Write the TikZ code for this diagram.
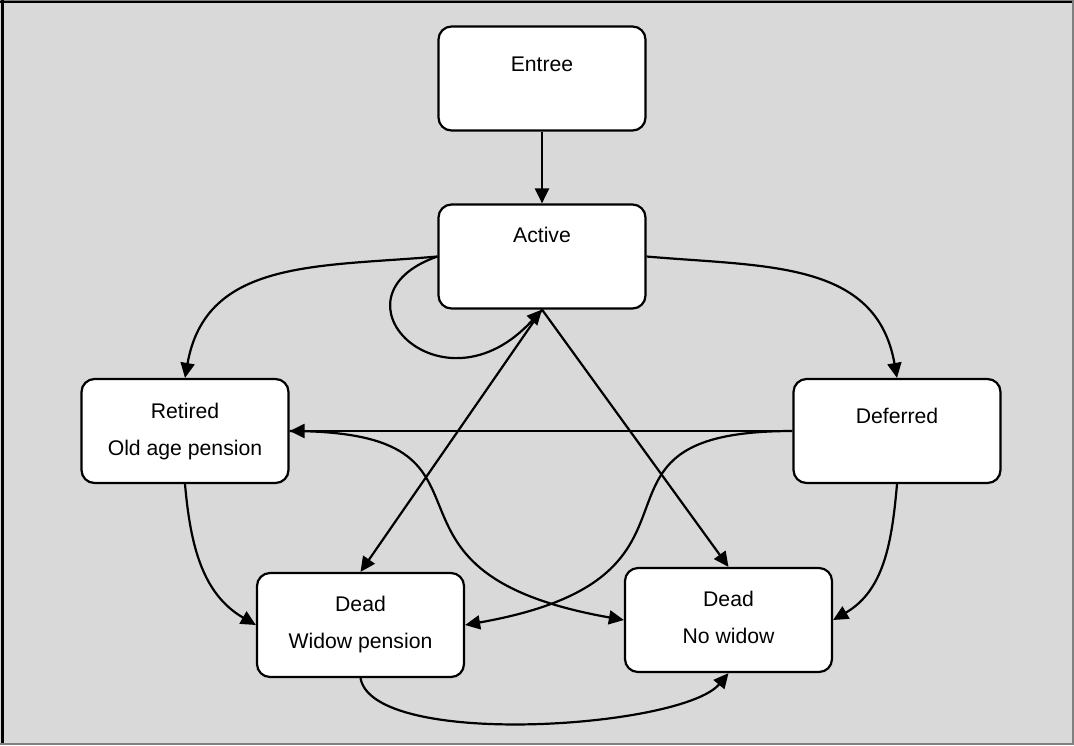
\documentclass[tikz,border=0pt]{standalone}
\usepackage{fontspec}
\setmainfont{Liberation Sans}
\usetikzlibrary{arrows.meta}

\definecolor{bggray}{RGB}{217,217,217}
\definecolor{edgegray}{RGB}{128,128,128}

\begin{document}
\begin{tikzpicture}[x=0.5pt, y=0.5pt,
        S/.style={draw, fill=white, line width=1.1pt, rounded corners=6.5pt,
            minimum width=103.5pt, minimum height=52pt, inner sep=0pt},
        T/.style={anchor=north, align=center, inner sep=0pt,
            font=\fontsize{10.6}{18.5}\selectfont},
        A/.style={line width=1.1pt, ->, >={Triangle[length=7.5pt, width=7pt]}}
    ]

    \useasboundingbox (0,0) rectangle (1074,-745);

    % frame
    \fill[bggray] (0,0) rectangle (1074,-745);
    \fill[edgegray] (0,0) rectangle (1074,-1);
    \fill[black] (0,-1) rectangle (1074,-3);
    \fill[black] (1,0) rectangle (4,-745);
    \fill[edgegray] (1072,0) rectangle (1074,-745);
    \fill[edgegray] (0,-743) rectangle (1074,-745);

    % states
    \node[S] (entree) at (542,-78.5) {};
    \node[S] (active) at (542,-256.5) {};
    \node[S] (retired) at (185,-431) {};
    \node[S] (deferred) at (897,-431) {};
    \node[S] (deadw) at (360.5,-625) {};
    \node[S] (deadn) at (728.5,-620) {};

    \node[T] (entreet) at ([yshift=-10pt]entree.north) {\strut Entree};
    \node[T] (activet) at ([yshift=-6.5pt]active.north) {\strut Active};
    \node[T] (retiredt) at ([yshift=-7pt]retired.north) {\strut Retired\\Old age pension};
    \node[T] (deferredt) at ([yshift=-9.5pt]deferred.north) {\strut Deferred};
    \node[T] (deadwt) at ([yshift=-6.5pt]deadw.north) {\strut Dead\\Widow pension};
    \node[T] (deadnt) at ([yshift=-6.5pt]deadn.north) {\strut Dead\\No widow};

    % transitions
    \draw[A] (entree) -- (active);
    \draw[A] (active.west) to[out=185, in=80, looseness=1.1] (retired.north);
    \draw[A] (active.west) .. controls +(-115,-40) and +(-100,-110) .. (active.south);
    \draw[A] (active.east) to[out=-5, in=100, looseness=1.1] (deferred.north);
    \draw[A] (active.south) -- (deadw.north);
    \draw[A] (active.south) -- (deadn.north);
    \draw[A] (deferred.west) -- (retired.east);
    \draw[A] (deferred.west) to[out=180, in=10, out looseness=1.6, in looseness=1.9] (deadw.east);
    \draw[A] (retired.east) to[out=0, in=170, out looseness=1.6, in looseness=1.9] (deadn.west);
    \draw[A] (retired.south) to[out=-85, in=150] (deadw.west);
    \draw[A] (deferred.south) to[out=-95, in=30] (deadn.east);
    \draw[A] (deadw.south) to[out=-80, in=230, looseness=0.5] (deadn.south);
\end{tikzpicture}
\end{document}
